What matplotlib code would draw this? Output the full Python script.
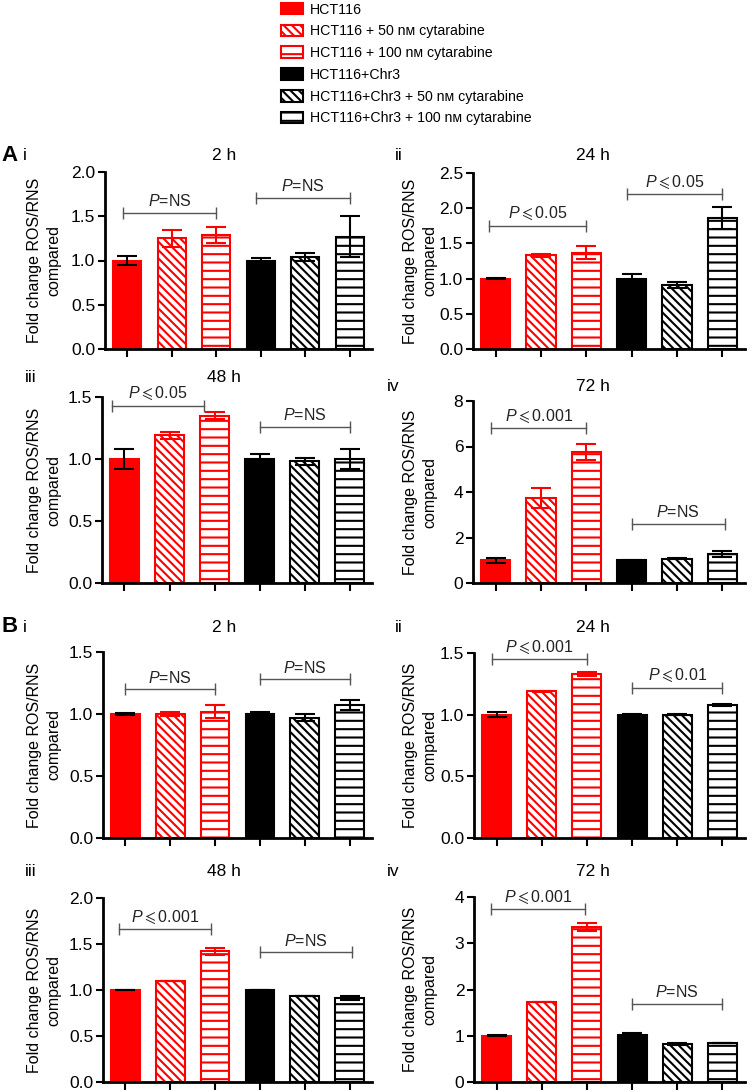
import matplotlib
matplotlib.use("Agg")
import matplotlib.pyplot as plt
from matplotlib.patches import Patch

plt.rcParams['font.family'] = ['Liberation Sans', 'DejaVu Sans']
plt.rcParams['mathtext.fontset'] = 'custom'
plt.rcParams['mathtext.rm'] = 'Liberation Sans'
plt.rcParams['mathtext.it'] = 'Liberation Sans:italic'
plt.rcParams['mathtext.fallback'] = 'stixsans'
plt.rcParams['hatch.linewidth'] = 1.5

# groups / styles
groups = ["HCT116", "HCT116 + 50 n\u1d0d cytarabine", "HCT116 + 100 n\u1d0d cytarabine",
          "HCT116+Chr3", "HCT116+Chr3 + 50 n\u1d0d cytarabine", "HCT116+Chr3 + 100 n\u1d0d cytarabine"]
colors = ["#ff0000", "#ff0000", "#ff0000", "black", "black", "black"]
hatches = [None, "\\\\\\\\", "--", None, "\\\\\\\\", "--"]

# A: fold change (mean, sem)
a_2h = [1.0, 1.25, 1.29, 1.0, 1.04, 1.27]
a_2h_err = [0.05, 0.10, 0.09, 0.03, 0.05, 0.23]
a_24h = [1.0, 1.33, 1.37, 1.0, 0.91, 1.86]
a_24h_err = [0.01, 0.02, 0.09, 0.07, 0.04, 0.16]
a_48h = [1.0, 1.19, 1.35, 1.0, 0.98, 1.0]
a_48h_err = [0.08, 0.03, 0.03, 0.04, 0.03, 0.08]
a_72h = [1.0, 3.73, 5.76, 1.0, 1.07, 1.27]
a_72h_err = [0.1, 0.45, 0.36, 0.02, 0.03, 0.14]

# B
b_2h = [1.0, 1.0, 1.02, 1.0, 0.97, 1.07]
b_2h_err = [0.005, 0.02, 0.05, 0.02, 0.03, 0.04]
b_24h = [1.0, 1.19, 1.33, 1.0, 1.0, 1.08]
b_24h_err = [0.02, 0.005, 0.02, 0.003, 0.005, 0.01]
b_48h = [1.0, 1.1, 1.42, 1.0, 0.94, 0.91]
b_48h_err = [0.005, 0.0, 0.04, 0.0, 0.0, 0.02]
b_72h = [1.0, 1.72, 3.35, 1.02, 0.82, 0.85]
b_72h_err = [0.01, 0.0, 0.08, 0.03, 0.02, 0.0]

ns = r"$\mathit{P}$=NS"
def p_le(v):
    return r"$\mathit{P}\leqslant$" + v

# brackets: (x1, x2, y, label)
panels = [
    # data, err, ylim, ystep, title, numeral, box(left, top, right, bottom px), title y px, brackets
    (a_2h, a_2h_err, 2.0, 0.5, "2 h", "i", (105, 172, 372, 349), 156,
     [(-0.1, 2.0, 1.54, ns), (2.9, 5.0, 1.71, ns)]),
    (a_24h, a_24h_err, 2.5, 0.5, "24 h", "ii", (473, 173, 745, 349), 156,
     [(-0.14, 2.0, 1.75, p_le("0.05")), (2.9, 5.0, 2.2, p_le("0.05"))]),
    (a_48h, a_48h_err, 1.5, 0.5, "48 h", "iii", (102, 397, 372, 583), 377,
     [(-0.28, 1.76, 1.43, p_le("0.05")), (3.0, 5.0, 1.26, ns)]),
    (a_72h, a_72h_err, 8, 2, "72 h", "iv", (473, 401, 745, 583), 386,
     [(-0.1, 2.0, 6.8, p_le("0.001")), (3.0, 5.05, 2.6, ns)]),
    (b_2h, b_2h_err, 1.5, 0.5, "2 h", "i", (103, 652, 372, 838), 627,
     [(0.0, 2.0, 1.2, ns), (3.0, 5.0, 1.28, ns)]),
    (b_24h, b_24h_err, 1.5, 0.5, "24 h", "ii", (474, 653, 745, 838), 627,
     [(-0.1, 2.0, 1.45, p_le("0.001")), (3.0, 5.0, 1.22, p_le("0.01"))]),
    (b_48h, b_48h_err, 2.0, 0.5, "48 h", "iii", (103, 898, 372, 1082), 872,
     [(-0.15, 1.9, 1.66, p_le("0.001")), (3.0, 5.05, 1.41, ns)]),
    (b_72h, b_72h_err, 4, 1, "72 h", "iv", (474, 897, 745, 1082), 872,
     [(-0.13, 1.95, 3.74, p_le("0.001")), (3.0, 5.0, 1.69, ns)]),
]

W, H = 752, 1092
fig = plt.figure(figsize=(W / 100, H / 100), dpi=100)

for vals, errs, ymax, ystep, title, numeral, box, ty, brackets in panels:
    l, t, r, b = box
    ax = fig.add_axes([l / W, 1 - b / H, (r - l) / W, (b - t) / H])
    x = list(range(len(vals)))
    for i in x:
        solid = hatches[i] is None
        ax.bar(i, vals[i], width=0.64, facecolor=colors[i] if solid else "white",
               edgecolor=colors[i], hatch=hatches[i], linewidth=1.5, zorder=2)
        ecol = "black" if i == 0 else colors[i]
        ax.errorbar(i, vals[i], yerr=errs[i], ecolor=ecol, elinewidth=1.5,
                    capsize=7, capthick=1.5, fmt="none", zorder=3)
    ax.set_xlim(-0.5, 5.5)
    ax.set_ylim(0, ymax)
    ticks = [k * ystep for k in range(int(round(ymax / ystep)) + 1)]
    ax.set_yticks(ticks)
    if ystep < 1:
        ax.set_yticklabels([f"{v:.1f}" for v in ticks])
    else:
        ax.set_yticklabels([f"{v:g}" for v in ticks])
    ax.set_xticks(x)
    ax.set_xticklabels([])
    for s in ["top", "right"]:
        ax.spines[s].set_visible(False)
    for s in ["left", "bottom"]:
        ax.spines[s].set_linewidth(2)
    ax.tick_params(axis="y", length=5, width=1.5, labelsize=12.5, pad=2)
    ax.tick_params(axis="x", length=6, width=1.5)

    for x1, x2, y, lab in brackets:
        ax.plot([x1, x2], [y, y], color="#555555", lw=1, marker="|",
                markersize=9, markeredgewidth=1, clip_on=False, zorder=4)
        ax.annotate(lab, xy=((x1 + x2) / 2, y), xytext=(0, 2.5),
                    textcoords="offset points", ha="center", va="bottom",
                    fontsize=11.5, color="#222222", annotation_clip=False)

    # titles, numerals, y labels
    cx = 224 if l < 300 else 593
    fig.text(cx / W, 1 - ty / H, title, ha="center", va="center", fontsize=12.5)
    nx = 25 if l < 300 else 393
    if numeral == "iii":
        nx = 31
    if numeral == "ii":
        nx = 399
    fig.text(nx / W, 1 - ty / H, numeral, ha="center", va="center", fontsize=12.5)
    lx = 44 if l < 300 else 420
    fig.text(lx / W, 1 - ((t + b) / 2) / H, "Fold change ROS/RNS\ncompared",
             rotation=90, ha="center", va="center", multialignment="center",
             fontsize=11.5, linespacing=1.35)

fig.text(10 / W, 1 - 156 / H, "A", ha="center", va="center", fontsize=16, fontweight="bold")
fig.text(10 / W, 1 - 627 / H, "B", ha="center", va="center", fontsize=16, fontweight="bold")

handles = [Patch(facecolor=colors[i] if hatches[i] is None else "white",
                 edgecolor=colors[i], hatch=hatches[i], linewidth=1.5)
           for i in range(len(groups))]
fig.legend(handles, groups, loc="upper left", bbox_to_anchor=(272 / W, 1 + 6 / H),
           frameon=False, fontsize=10.2, handlelength=1.6, handleheight=0.9,
           labelspacing=0.55, handletextpad=0.5, borderpad=0.1)

fig.savefig("out.png", dpi=100)
